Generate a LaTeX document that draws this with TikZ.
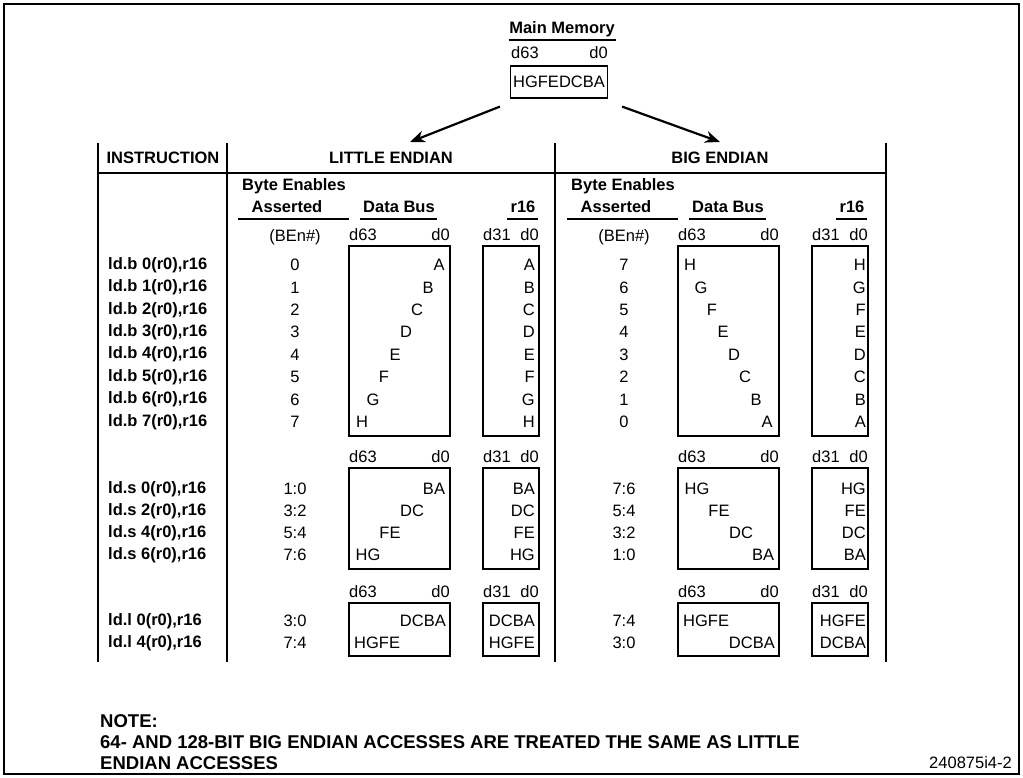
\documentclass[tikz,border=0pt]{standalone}
\usepackage{fontspec}
\setmainfont{Liberation Sans}
\usetikzlibrary{arrows.meta}

\tikzset{
  txt/.style={inner sep=0pt, font=\fontsize{16.5}{19}\selectfont},
  bld/.style={inner sep=0pt, font=\fontsize{16.5}{19}\selectfont\bfseries},
  notetxt/.style={inner sep=0pt, anchor=west, font=\fontsize{18.5}{21}\selectfont\bfseries},
  busbox/.style={draw, line width=1.2pt},
  rule/.style={line width=1.2pt},
  fetch/.style={line width=2.2pt, -{Stealth[length=15pt, width=12pt]}},
}

\begin{document}
\begin{tikzpicture}[x=1pt, y=-1pt]
    \useasboundingbox (0,0) rectangle (1023,778);

    % Outer frame
    \draw[line width=2.2pt] (4,4) rectangle (1019,774);

    % Main memory
    \node[bld] (mmtitle) at (562,29) {Main Memory};
    \draw[rule] (509,40) -- (616,40);
    \node[txt, anchor=west] (mmhi) at (511,53) {d63};
    \node[txt, anchor=east] (mmlo) at (608,53) {d0};
    \node[busbox, txt, minimum width=97pt, minimum height=32pt] (mem) at (559,82) {HGFEDCBA};

    % Arrows to both byte orders
    \coordinate (le) at (410,142);
    \coordinate (be) at (720,142);
    \draw[fetch] ([xshift=-10pt, yshift=-8pt]mem.south west) -- (le);
    \draw[fetch] ([xshift=14pt, yshift=-8pt]mem.south east) -- (be);

    % Table rules
    \draw[rule] (98,143) -- (98,662);
    \draw[rule] (227,143) -- (227,662);
    \draw[rule] (555,143) -- (555,662);
    \draw[rule] (886,143) -- (886,662);
    \draw[rule] (98,173) -- (886,173);

    % Table header
    \node[bld] (hinstr) at (163,158) {INSTRUCTION};
    \node[bld] (hle) at (391,158) {LITTLE ENDIAN};
    \node[bld] (hbe) at (720,158) {BIG ENDIAN};

    % Column heads, same for both halves
    \foreach \dx in {0,329} {
      \begin{scope}[xshift=\dx pt]
        \node[bld, anchor=west] (byen\dx) at (242,186) {Byte Enables};
        \node[bld] (asrt\dx) at (287,207) {Asserted};
        \draw[rule] (238,219) -- (349,219);
        \node[bld] (dbus\dx) at (399,207) {Data Bus};
        \draw[rule] (360,219) -- (437,219);
        \node[bld] (reg\dx) at (523,207) {r16};
        \draw[rule] (507,219) -- (538,219);
        \node[txt] (ben\dx) at (295,237) {(BEn\#)};
        % byte loads
        \node[txt, anchor=west] (bhi\dx) at (349,235) {d63};
        \node[txt, anchor=east] (blo\dx) at (450,235) {d0};
        \node[txt, anchor=west] (rhi\dx) at (483,235) {d31};
        \node[txt, anchor=east] (rlo\dx) at (539,235) {d0};
        \draw[busbox] (349,246) rectangle (450,436);
        \draw[busbox] (483,246) rectangle (539,436);
        % short loads
        \node[txt, anchor=west] (shi\dx) at (349,457) {d63};
        \node[txt, anchor=east] (slo\dx) at (450,457) {d0};
        \node[txt, anchor=west] (srhi\dx) at (483,457) {d31};
        \node[txt, anchor=east] (srlo\dx) at (539,457) {d0};
        \draw[busbox] (349,468) rectangle (450,569);
        \draw[busbox] (483,468) rectangle (539,569);
        % word loads
        \node[txt, anchor=west] (whi\dx) at (349,592) {d63};
        \node[txt, anchor=east] (wlo\dx) at (450,592) {d0};
        \node[txt, anchor=west] (wrhi\dx) at (483,592) {d31};
        \node[txt, anchor=east] (wrlo\dx) at (539,592) {d0};
        \draw[busbox] (349,603) rectangle (450,656);
        \draw[busbox] (483,603) rectangle (539,656);
      \end{scope}
    }

    % ld.b rows
    \foreach \i/\ch/\n/\bch in {0/A/7/H,1/B/6/G,2/C/5/F,3/D/4/E,4/E/3/D,5/F/2/C,6/G/1/B,7/H/0/A} {
      \node[bld, anchor=west] (ldb\i) at (108,265+22.4*\i) {ld.b \i(r0),r16};
      \node[txt] (leb\i) at (295,265+22.4*\i) {\i};
      \node[txt] (ledb\i) at (439-11*\i,265+22.4*\i) {\ch};
      \node[txt, anchor=east] (ler\i) at (535,265+22.4*\i) {\ch};
      \node[txt] (beb\i) at (624,265+22.4*\i) {\n};
      \node[txt] (bedb\i) at (690+11*\i,265+22.4*\i) {\bch};
      \node[txt, anchor=east] (ber\i) at (866,265+22.4*\i) {\bch};
    }

    % ld.s rows
    \node[bld, anchor=west] (lds0) at (108,489) {ld.s 0(r0),r16};
    \node[bld, anchor=west] (lds2) at (108,511) {ld.s 2(r0),r16};
    \node[bld, anchor=west] (lds4) at (108,533) {ld.s 4(r0),r16};
    \node[bld, anchor=west] (lds6) at (108,555) {ld.s 6(r0),r16};
    \node[txt] (les0) at (295,489) {1:0};
    \node[txt] (les2) at (295,511) {3:2};
    \node[txt] (les4) at (295,533) {5:4};
    \node[txt] (les6) at (295,555) {7:6};
    \node[txt] (leds0) at (434,489) {BA};
    \node[txt] (leds2) at (412,511) {DC};
    \node[txt] (leds4) at (390,533) {FE};
    \node[txt] (leds6) at (368,555) {HG};
    \node[txt, anchor=east] (lers0) at (535,489) {BA};
    \node[txt, anchor=east] (lers2) at (535,511) {DC};
    \node[txt, anchor=east] (lers4) at (535,533) {FE};
    \node[txt, anchor=east] (lers6) at (535,555) {HG};
    \node[txt] (bes0) at (624,489) {7:6};
    \node[txt] (bes2) at (624,511) {5:4};
    \node[txt] (bes4) at (624,533) {3:2};
    \node[txt] (bes6) at (624,555) {1:0};
    \node[txt] (beds0) at (697,489) {HG};
    \node[txt] (beds2) at (719,511) {FE};
    \node[txt] (beds4) at (741,533) {DC};
    \node[txt] (beds6) at (763,555) {BA};
    \node[txt, anchor=east] (bers0) at (866,489) {HG};
    \node[txt, anchor=east] (bers2) at (866,511) {FE};
    \node[txt, anchor=east] (bers4) at (866,533) {DC};
    \node[txt, anchor=east] (bers6) at (866,555) {BA};

    % ld.l rows
    \node[bld, anchor=west] (ldl0) at (108,621) {ld.l 0(r0),r16};
    \node[bld, anchor=west] (ldl4) at (108,643) {ld.l 4(r0),r16};
    \node[txt] (lel0) at (295,621) {3:0};
    \node[txt] (lel4) at (295,643) {7:4};
    \node[txt, anchor=east] (ledl0) at (446,621) {DCBA};
    \node[txt, anchor=west] (ledl4) at (354,643) {HGFE};
    \node[txt, anchor=east] (lerl0) at (535,621) {DCBA};
    \node[txt, anchor=east] (lerl4) at (535,643) {HGFE};
    \node[txt] (bel0) at (624,621) {7:4};
    \node[txt] (bel4) at (624,643) {3:0};
    \node[txt, anchor=west] (bedl0) at (683,621) {HGFE};
    \node[txt, anchor=east] (bedl4) at (775,643) {DCBA};
    \node[txt, anchor=east] (berl0) at (866,621) {HGFE};
    \node[txt, anchor=east] (berl4) at (866,643) {DCBA};

    % Note
    \node[notetxt] (note) at (100,721) {NOTE:};
    \node[notetxt] (note1) at (100,742) {64- AND 128-BIT BIG ENDIAN ACCESSES ARE TREATED THE SAME AS LITTLE};
    \node[notetxt] (note2) at (100,763) {ENDIAN ACCESSES};
    \node[txt, anchor=east] (figno) at (1012,763) {240875i4-2};
\end{tikzpicture}
\end{document}
